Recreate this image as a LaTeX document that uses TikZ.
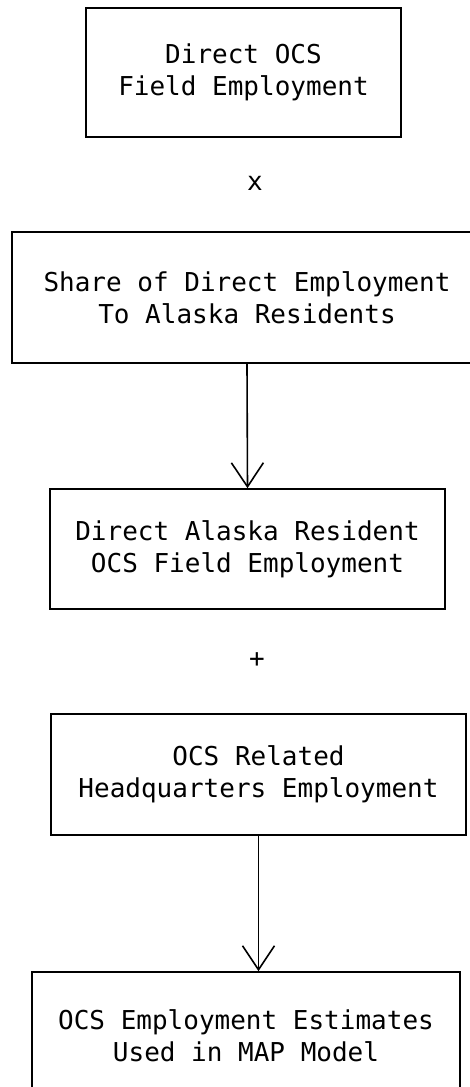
\documentclass[tikz,border=0pt]{standalone}
\usepackage{fontspec}
\setmonofont{DejaVu Sans Mono}
\usetikzlibrary{arrows.meta}

\tikzset{
  flowbox/.style={draw,line width=0.8pt,align=center,inner sep=0pt,
    font=\ttfamily\fontsize{13}{16}\selectfont},
  optext/.style={font=\ttfamily\fontsize{13}{16}\selectfont},
  flowarrow/.style={line width=0.8pt,-{Straight Barb[length=12pt,width=16pt,line width=0.8pt]}}
}

\begin{document}
\begin{tikzpicture}[x=0.5pt,y=-0.5pt]
      \useasboundingbox (0,0) rectangle (470,1087);
      \clip (0,0) rectangle (470,1087);
      \fill[white] (0,0) rectangle (470,1087);
      % boxes of the flow
      \node[flowbox,minimum width=157.5pt,minimum height=64.5pt] (field) at (243.5,72.5)
        {Direct OCS\\Field Employment};
      \node[optext] (times) at (255,183) {x};
      \node[flowbox,minimum width=235pt,minimum height=65.5pt] (share) at (247,297.5)
        {Share of Direct Employment\\To Alaska Residents};
      \node[flowbox,minimum width=197.5pt,minimum height=60pt] (resident) at (247.5,549)
        {Direct Alaska Resident\\OCS Field Employment};
      \node[optext] (plus) at (257,660) {+};
      \node[flowbox,minimum width=207.5pt,minimum height=60.5pt] (hq) at (258.5,774.5)
        {OCS Related\\Headquarters Employment};
      \node[flowbox,minimum width=214pt,minimum height=64pt] (estimate) at (246,1036)
        {OCS Employment Estimates\\Used in MAP Model};
      % arrows
      \draw[flowarrow] (share.south) -- (resident.north);
      \draw[flowarrow] (hq.south) -- (hq.south |- estimate.north);
    \end{tikzpicture}
\end{document}
